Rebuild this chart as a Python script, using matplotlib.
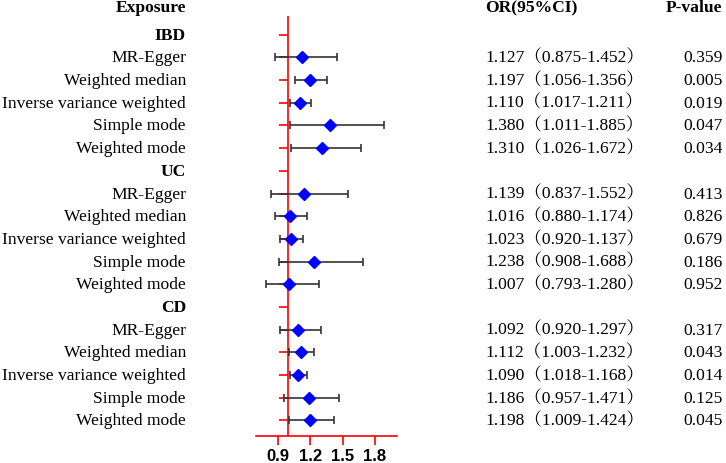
import matplotlib
matplotlib.use("Agg")
import matplotlib.pyplot as plt
from matplotlib.transforms import blended_transform_factory
import numpy as np

groups = ["IBD", "UC", "CD"]
methods = ["MR-Egger", "Weighted median", "Inverse variance weighted", "Simple mode", "Weighted mode"]
or_vals = {
    "IBD": [1.127, 1.197, 1.110, 1.380, 1.310],
    "UC": [1.139, 1.016, 1.023, 1.238, 1.007],
    "CD": [1.092, 1.112, 1.090, 1.186, 1.198],
}
lo_vals = {
    "IBD": [0.875, 1.056, 1.017, 1.011, 1.026],
    "UC": [0.837, 0.880, 0.920, 0.908, 0.793],
    "CD": [0.920, 1.003, 1.018, 0.957, 1.009],
}
hi_vals = {
    "IBD": [1.452, 1.356, 1.211, 1.885, 1.672],
    "UC": [1.552, 1.174, 1.137, 1.688, 1.280],
    "CD": [1.297, 1.232, 1.168, 1.471, 1.424],
}
p_vals = {
    "IBD": ["0.359", "0.005", "0.019", "0.047", "0.034"],
    "UC": ["0.413", "0.826", "0.679", "0.186", "0.952"],
    "CD": ["0.317", "0.043", "0.014", "0.125", "0.045"],
}
xticks = [0.9, 1.2, 1.5, 1.8]

W, H = 726, 464
fig = plt.figure(figsize=(W / 100, H / 100), dpi=100)
ax = fig.add_axes([256 / W, 1 - 436.7 / H, 140.7 / W, (436.7 - 17.3) / H])
tr = blended_transform_factory(fig.transFigure, ax.transData)

serif = ["Liberation Serif", "Noto Serif CJK SC", "Noto Sans CJK SC", "DejaVu Serif"]
fs = 12.6

row = 0
ytick_pos = []
for g in groups:
    ytick_pos.append(row)
    ax.text(186 / W, row, g, transform=tr, ha="right", va="center",
            fontsize=fs, fontweight="bold", family=serif)
    row += 1
    for i, m in enumerate(methods):
        ytick_pos.append(row)
        o, l, h = or_vals[g][i], lo_vals[g][i], hi_vals[g][i]
        ax.errorbar([o], [row], xerr=[[o - l], [h - o]], fmt="none", ecolor="#333333",
                    elinewidth=1.2, capsize=2.6, capthick=1.2, zorder=3)
        ax.plot([o], [row], marker="D", color="#0000ff", markersize=6.5, zorder=4, linestyle="none")
        ax.text(186 / W, row, m, transform=tr, ha="right", va="center",
                fontsize=fs, family=serif)
        ax.text(485 / W, row, f"{o:.3f}\uff08{l:.3f}-{h:.3f}\uff09", transform=tr,
                ha="left", va="center", fontsize=fs, family=serif)
        ax.text(722.5 / W, row, p_vals[g][i], transform=tr, ha="right", va="center",
                fontsize=fs, family=serif)
        row += 1

ax.set_xlim(0.7, 2.0)
ax.set_ylim(17.67, -0.81)

ax.axvline(1.0, color="#ff0000", lw=1.2, zorder=1)
for s in ["top", "right", "left"]:
    ax.spines[s].set_visible(False)
ax.spines["bottom"].set_color("#ff0000")
ax.spines["bottom"].set_linewidth(1.2)
ax.set_xticks(xticks)
ax.set_xticklabels([f"{t:.1f}" for t in xticks], fontsize=12, fontweight="bold",
                   family="Liberation Sans")
ax.tick_params(axis="x", colors="#ff0000", length=6.5, width=1.2, labelcolor="black", pad=2)

ax.set_yticks([])
for y in ytick_pos:
    ax.plot([0.917, 1.0], [y, y], color="#ff0000", lw=1.2, zorder=2, solid_capstyle="butt")

# headers
fig.text(186 / W, 1 - 8.5 / H, "Exposure", ha="right", va="center", fontsize=fs,
         fontweight="bold", family=serif)
fig.text(485 / W, 1 - 8.5 / H, "OR(95%CI)", ha="left", va="center", fontsize=fs,
         fontweight="bold", family=serif)
fig.text(722 / W, 1 - 8.5 / H, "P-value", ha="right", va="center", fontsize=fs,
         fontweight="bold", family=serif)

fig.savefig("out.png", dpi=100, facecolor="white")
